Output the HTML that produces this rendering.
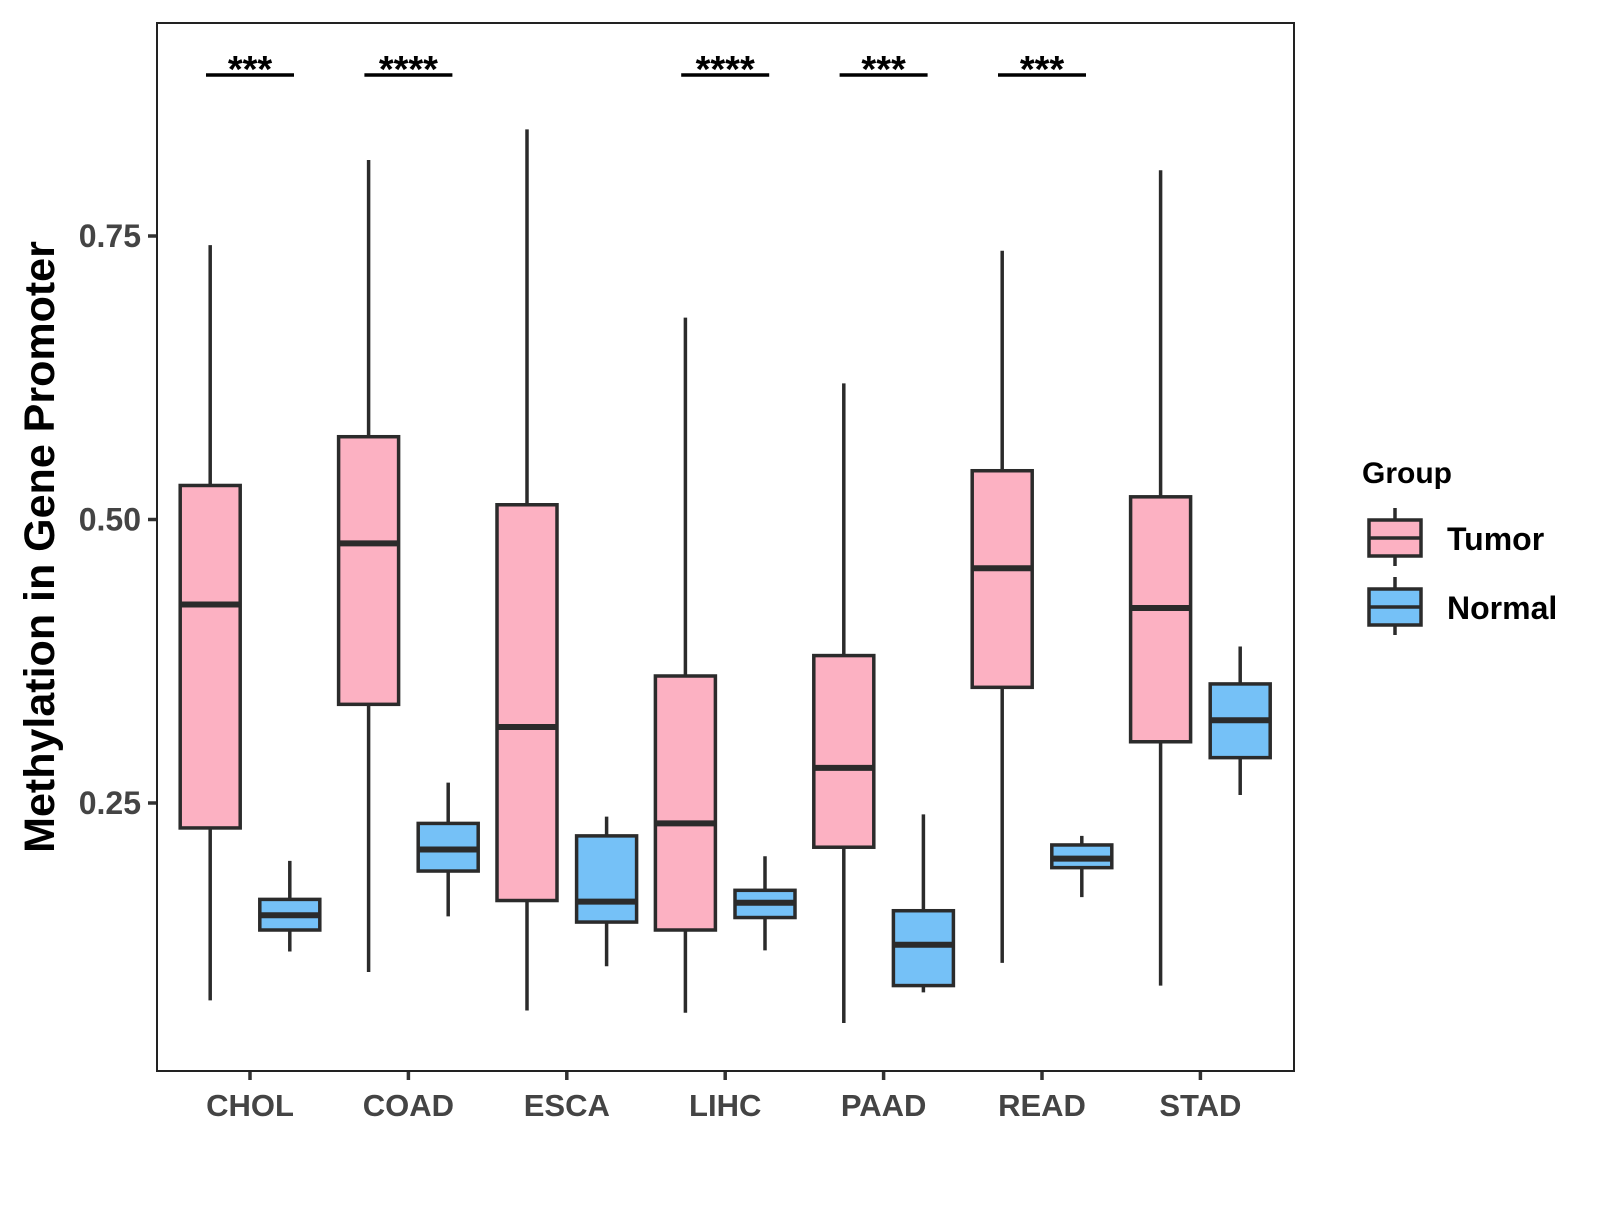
<!DOCTYPE html>
<html><head><meta charset="utf-8"><style>
html,body{margin:0;padding:0;background:#fff;}
svg text{font-family:"Liberation Sans",Arial,sans-serif;font-weight:bold;}
</style></head><body>
<svg id="chart" width="1600" height="1200" viewBox="0 0 1600 1200" xmlns="http://www.w3.org/2000/svg">
<rect x="0" y="0" width="1600" height="1200" fill="#fff"/>
<g id="marks"></g>
<rect x="157" y="23" width="1137" height="1048" fill="none" stroke="#222" stroke-width="2"/>
<text x="0" y="0" transform="translate(54,547) rotate(-90)" text-anchor="middle" font-size="43" fill="#000">Methylation in Gene Promoter</text>
<g>
<text x="1362" y="483" font-size="30" fill="#000">Group</text>
<g>
<line x1="1395" y1="508" x2="1395" y2="566" stroke="#2b2b2b" stroke-width="3.5"/>
<rect x="1369" y="520" width="52" height="36" fill="#fcb1c2" stroke="#2b2b2b" stroke-width="3.5"/>
<line x1="1369" y1="538" x2="1421" y2="538" stroke="#2b2b2b" stroke-width="3.5"/>
<text x="1447" y="550" font-size="32" fill="#000">Tumor</text>
</g>
<g>
<line x1="1395" y1="577" x2="1395" y2="635" stroke="#2b2b2b" stroke-width="3.5"/>
<rect x="1369" y="589" width="52" height="36" fill="#75c1f7" stroke="#2b2b2b" stroke-width="3.5"/>
<line x1="1369" y1="607" x2="1421" y2="607" stroke="#2b2b2b" stroke-width="3.5"/>
<text x="1447" y="619" font-size="32" fill="#000">Normal</text>
</g>
</g>
</svg>
<script>
const categories = ["CHOL","COAD","ESCA","LIHC","PAAD","READ","STAD"];
// [lowerWhisker, Q1, median, Q3, upperWhisker]
const tumorStats = [
 [0.076,0.228,0.425,0.530,0.742],
 [0.101,0.337,0.479,0.573,0.817],
 [0.067,0.164,0.317,0.513,0.844],
 [0.065,0.138,0.232,0.362,0.678],
 [0.056,0.211,0.281,0.380,0.620],
 [0.109,0.352,0.457,0.543,0.737],
 [0.089,0.304,0.422,0.520,0.808]
];
const normalStats = [
 [0.119,0.138,0.151,0.165,0.199],
 [0.150,0.190,0.209,0.232,0.268],
 [0.106,0.145,0.163,0.221,0.238],
 [0.120,0.149,0.162,0.173,0.203],
 [0.083,0.089,0.125,0.155,0.240],
 [0.167,0.193,0.201,0.213,0.221],
 [0.257,0.290,0.323,0.355,0.388]
];
const significance = ["***","****","","****","***","***",""];
const yTicks = [0.25,0.50,0.75];
const yTickLabels = ["0.25","0.50","0.75"];

const NS="http://www.w3.org/2000/svg";
const g=document.getElementById('marks');
function yScale(v){return 519.5-(v-0.5)*1134;}
function xScale(i){return 250+i*158.4;}
function mk(tag,attrs,parent){const e=document.createElementNS(NS,tag);for(const k in attrs)e.setAttribute(k,attrs[k]);(parent||g).appendChild(e);return e;}

yTicks.forEach((t,i)=>{
 const y=yScale(t);
 const tk=mk('line',{x1:148,x2:157,y1:y,y2:y,stroke:'#333','stroke-width':3.5});
 
 
 const tx=mk('text',{x:141,y:y+11,'text-anchor':'end','font-size':32,fill:'#444'});
 tx.textContent=yTickLabels[i];
 
 
});
categories.forEach((c,i)=>{
 const x=xScale(i);
 const tk=mk('line',{x1:x,x2:x,y1:1071,y2:1080,stroke:'#333','stroke-width':3.5});
 
 
 const tx=mk('text',{x:x,y:1116,'text-anchor':'middle','font-size':31,fill:'#444'});
 tx.textContent=c;
 
 
});
function drawBox(cx,s,fill,name){
 const grp=mk('g',{});
 
 
 const w=60;
 mk('line',{x1:cx,x2:cx,y1:yScale(s[0]),y2:yScale(s[4]),stroke:'#2b2b2b','stroke-width':3.5},grp);
 mk('rect',{x:cx-w/2,y:yScale(s[3]),width:w,height:yScale(s[1])-yScale(s[3]),fill:fill,stroke:'#2b2b2b','stroke-width':3.5},grp);
 mk('line',{x1:cx-w/2,x2:cx+w/2,y1:yScale(s[2]),y2:yScale(s[2]),stroke:'#2b2b2b','stroke-width':6},grp);
}
categories.forEach((c,i)=>{
 const x=xScale(i);
 drawBox(x-39.8,tumorStats[i],'#fcb1c2','box-tumor-'+c.toLowerCase());
 drawBox(x+39.8,normalStats[i],'#75c1f7','box-normal-'+c.toLowerCase());
 if(significance[i]){
  const ln=mk('line',{x1:x-44,x2:x+44,y1:75,y2:75,stroke:'#000','stroke-width':3.5});
  
  
  const st=mk('text',{x:x,y:82,'text-anchor':'middle','font-size':38,fill:'#000'});
  st.textContent=significance[i];
  
  
 }
});
</script>
</body></html>
